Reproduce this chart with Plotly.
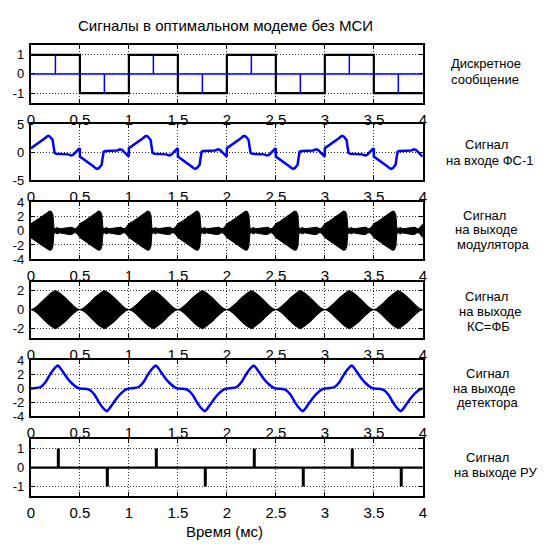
import plotly.graph_objects as go

W, H = 549, 548

# ---------------- data ----------------
bits = [1, -1, 1, -1, 1, -1, 1, -1]          # discrete message, one per 0.5 ms
sym_dur = 0.5
stem_pos = 0.25                               # stem position inside symbol (message)
dec_pos = 0.28                                # decision instants inside symbol (RU)

# FS-1 input pulse for a +1 symbol (time within symbol, value)
fs_t = [0.0, 0.03, 0.06, 0.10, 0.14, 0.165, 0.18, 0.195, 0.21, 0.222, 0.232, 0.242, 0.26,
        0.30, 0.35, 0.38, 0.41, 0.43, 0.45, 0.47, 0.49, 0.499]
fs_v = [0.75, 1.1, 1.5, 2.0, 2.5, 2.85, 2.95, 2.8, 2.5, 2.2, 1.0, -0.1, -0.25,
        -0.3, -0.3, -0.35, -0.55, -0.45, -0.1, 0.2, 0.6, 0.75]

# modulator output envelope per symbol
mod_t = [0.0, 0.04, 0.08, 0.12, 0.16, 0.19, 0.21, 0.225, 0.235, 0.25, 0.27, 0.29, 0.31,
         0.34, 0.37, 0.40, 0.42, 0.44, 0.46, 0.48, 0.499]
mod_v = [1.0, 1.3, 1.7, 2.1, 2.5, 2.75, 2.7, 2.2, 0.4, 0.3, 0.45, 0.3, 0.3,
         0.35, 0.5, 0.55, 0.5, 0.3, 0.3, 0.6, 0.95]

# channel/matched filter output envelope per symbol
ks_t = [0.0, 0.03, 0.06, 0.10, 0.15, 0.20, 0.23, 0.25, 0.27, 0.30, 0.35, 0.40, 0.44, 0.47, 0.5]
ks_v = [0.0, 0.12, 0.35, 0.75, 1.3, 1.75, 1.95, 2.05, 1.95, 1.75, 1.3, 0.75, 0.35, 0.12, 0.0]

# detector output pulse for a +1 symbol
det_t = [0.0, 0.05, 0.10, 0.15, 0.20, 0.25, 0.275, 0.30, 0.32, 0.37, 0.42, 0.47, 0.499]
det_v = [0.0, 0.05, 0.2, 0.9, 2.1, 3.0, 3.25, 2.9, 2.5, 1.5, 0.7, 0.15, 0.0]

x_ticks = [0, 0.5, 1, 1.5, 2, 2.5, 3, 3.5, 4]
x_ticktext = ["0", "0.5", "1", "1.5", "2", "2.5", "3", "3.5", "4"]

y_ranges = [[-1.5, 1.5], [-5, 5], [-4, 4], [-3, 3], [-4, 4], [-1.5, 1.5]]
y_ticks = [[-1, 0, 1], [-5, 0, 5], [-4, -2, 0, 2, 4], [-2, 0, 2], [-4, -2, 0, 2, 4], [-1, 0, 1]]

right_labels = [
    ["Дискретное", "сообщение"],
    ["Сигнал", "на входе ФС-1"],
    ["Сигнал", "на выходе", "модулятора"],
    ["Сигнал", "на выходе", "КС=ФБ"],
    ["Сигнал", "на выходе", "детектора"],
    ["Сигнал", "на выходе РУ"],
]
title_text = "Сигналы в оптимальном модеме без МСИ"
xlabel_text = "Время (мс)"

# ---------------- layout geometry (pixels) ----------------
x_left, x_right = 27.3, 425.0
panels_px = [(39.3, 98.3), (120.7, 178.3), (200.7, 259.3), (282.3, 340.0), (363.3, 421.0), (444.3, 502.7)]
label_px = [
    [(489, 58), (488, 75)],
    [(490, 141), (493, 158)],
    [(488, 214), (489, 229), (497, 244)],
    [(490, 298), (493, 313), (492, 328)],
    [(491, 377), (487, 392), (491, 407)],
    [(491, 463), (499, 479)],
]

FONT = "Liberation Sans, Arial, sans-serif"

fig = go.Figure()


def tile(tt, vv, signed=True):
    xs, ys = [], []
    for k, b in enumerate(bits):
        for t, v in zip(tt, vv):
            xs.append(k * sym_dur + t)
            ys.append(b * v if signed else v)
    return xs, ys


# panel 1: message (square wave) + stems
sq_x = [k * sym_dur for k in range(len(bits) + 1)]
sq_y = bits + [bits[-1]]
fig.add_trace(go.Scatter(x=sq_x, y=sq_y, mode="lines", line=dict(color="black", width=2.2, shape="hv"),
                         xaxis="x", yaxis="y", hoverinfo="skip"))
stx, sty = [0, 4, None], [0, 0, None]
for k, b in enumerate(bits):
    stx += [k * sym_dur + stem_pos, k * sym_dur + stem_pos, None]
    sty += [0, b, None]
fig.add_trace(go.Scatter(x=stx, y=sty, mode="lines", line=dict(color="blue", width=1.5),
                         xaxis="x", yaxis="y", hoverinfo="skip"))

# panel 2: FS-1 input
x2, y2 = tile(fs_t, fs_v)
fig.add_trace(go.Scatter(x=x2, y=y2, mode="lines", line=dict(color="blue", width=2.5),
                         xaxis="x2", yaxis="y2", hoverinfo="skip"))

# panel 3: modulator output (filled envelope of the carrier)
x3, e3 = tile(mod_t, mod_v, signed=False)
fig.add_trace(go.Scatter(x=x3 + x3[::-1], y=e3 + [-v for v in e3[::-1]], mode="lines", fill="toself",
                         fillcolor="black", line=dict(color="black", width=1),
                         xaxis="x3", yaxis="y3", hoverinfo="skip"))

# panel 4: KS=FB output
x4, e4 = tile(ks_t, ks_v, signed=False)
fig.add_trace(go.Scatter(x=x4 + x4[::-1], y=e4 + [-v for v in e4[::-1]], mode="lines", fill="toself",
                         fillcolor="black", line=dict(color="black", width=1),
                         xaxis="x4", yaxis="y4", hoverinfo="skip"))

# panel 5: detector output
x5, y5 = tile(det_t, det_v)
fig.add_trace(go.Scatter(x=x5, y=y5, mode="lines", line=dict(color="blue", width=2.5, shape="spline", smoothing=0.4),
                         xaxis="x5", yaxis="y5", hoverinfo="skip"))

# panel 6: decision output
fig.add_trace(go.Scatter(x=[0, 4], y=[0, 0], mode="lines", line=dict(color="black", width=2.2),
                         xaxis="x6", yaxis="y6", hoverinfo="skip"))
dx, dy = [], []
for k, b in enumerate(bits):
    dx += [k * sym_dur + dec_pos, k * sym_dur + dec_pos, None]
    dy += [0, b, None]
fig.add_trace(go.Scatter(x=dx, y=dy, mode="lines", line=dict(color="black", width=3),
                         xaxis="x6", yaxis="y6", hoverinfo="skip"))

layout = dict(width=W, height=H, margin=dict(l=0, r=0, t=0, b=0), showlegend=False,
              paper_bgcolor="white", plot_bgcolor="white",
              font=dict(family=FONT, size=15, color="black"))

axis_common = dict(showline=True, linecolor="black", linewidth=2, mirror="ticks",
                   ticks="inside", ticklen=4, tickcolor="black", tickwidth=1,
                   showgrid=True, gridcolor="#333", gridwidth=1, griddash="1px,2px",
                   zeroline=False)

xd = [x_left / W, x_right / W]
for i, (top, bot) in enumerate(panels_px):
    s = "" if i == 0 else str(i + 1)
    yd = [1 - bot / H, 1 - top / H]
    layout["xaxis" + s] = dict(axis_common, domain=xd, range=[0, 4], anchor="y" + s,
                               tickvals=x_ticks, ticktext=x_ticktext, ticklabelstandoff=2,
                               tickfont=dict(family=FONT, size=15, color="black"))
    layout["yaxis" + s] = dict(axis_common, domain=yd, range=y_ranges[i], anchor="x" + s,
                               tickvals=y_ticks[i], ticktext=[str(v) for v in y_ticks[i]],
                               ticklabelstandoff=2,
                               tickfont=dict(family=FONT, size=13, color="black"))

ann = []
for lines, poss in zip(right_labels, label_px):
    for txt, (px, py) in zip(lines, poss):
        ann.append(dict(text=txt, x=px / W, y=1 - py / H, xref="paper", yref="paper",
                        xanchor="center", yanchor="middle", showarrow=False,
                        font=dict(family=FONT, size=13, color="black")))
ann.append(dict(text=title_text, x=225 / W, y=1 - 19 / H, xref="paper", yref="paper",
                xanchor="center", yanchor="middle", showarrow=False,
                font=dict(family=FONT, size=15, color="black")))
ann.append(dict(text=xlabel_text, x=224 / W, y=1 - 539 / H, xref="paper", yref="paper",
                xanchor="center", yanchor="middle", showarrow=False,
                font=dict(family=FONT, size=15, color="black")))
layout["annotations"] = ann

fig.update_layout(**layout)
fig.write_html("out.html")
